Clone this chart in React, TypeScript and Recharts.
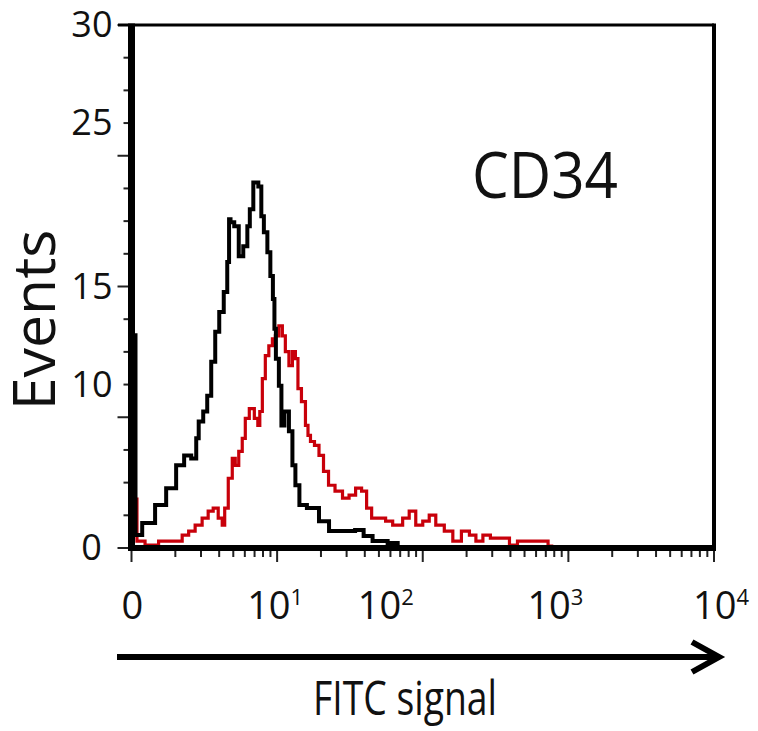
import React from "react";
import { LineChart, Line, XAxis, YAxis } from "recharts";

// FITC signal in decades (log10), events per channel
const isotypeHist: [number, number][] = [
  [0, 12.2], [0.025, 12.2], [0.03, 0.74], [0.117, 1.43], [0.207, 2.46], [0.269, 3.43],
  [0.344, 4.74], [0.379, 5.31], [0.441, 5.14], [0.448, 6.29], [0.475, 7.26], [0.51, 7.83],
  [0.53, 8.74], [0.565, 10.69], [0.585, 12.4], [0.62, 13.54], [0.647, 14.69], [0.668, 16.4],
  [0.672, 18.86], [0.688, 18.69], [0.723, 18.46], [0.75, 16.74], [0.785, 17.31], [0.806, 18.46],
  [0.819, 19.43], [0.854, 20.97], [0.888, 20.74], [0.895, 19.03], [0.923, 18.11], [0.943, 16.97],
  [0.964, 15.6], [0.978, 14.29], [0.985, 12.57], [0.998, 10.86], [1.026, 9.31], [1.033, 7.03],
  [1.067, 7.83], [1.095, 6.69], [1.115, 4.74], [1.136, 3.6], [1.17, 2.46], [1.239, 2.29],
  [1.336, 1.54], [1.377, 0.97], [1.494, 0.97], [1.577, 1.03], [1.611, 0.69], [1.7, 0.4],
  [1.818, 0.29], [1.838, 0],
];

const cd34Hist: [number, number][] = [
  [0.035, 2.8], [0.04, 0.4], [0.069, 0.4], [0.117, 0.17], [0.255, 0.4], [0.324, 0.4],
  [0.372, 0.74], [0.413, 0.97], [0.461, 1.31], [0.509, 1.71], [0.544, 2.11], [0.578, 2.29],
  [0.613, 1.71], [0.633, 1.31], [0.647, 2.29], [0.682, 4.0], [0.702, 5.14], [0.723, 4.74],
  [0.75, 5.54], [0.771, 6.29], [0.792, 7.43], [0.826, 8.0], [0.861, 7.43], [0.874, 7.03],
  [0.888, 7.83], [0.909, 9.71], [0.929, 11.03], [0.957, 11.6], [0.978, 12.0], [0.998, 12.17],
  [1.026, 12.74], [1.046, 12.17], [1.067, 11.26], [1.095, 10.46], [1.115, 11.26], [1.136, 10.86],
  [1.15, 9.14], [1.184, 8.4], [1.205, 7.03], [1.219, 6.46], [1.239, 6.11], [1.274, 5.89],
  [1.301, 5.31], [1.336, 4.4], [1.37, 3.6], [1.425, 3.26], [1.473, 2.86], [1.515, 3.03],
  [1.563, 3.43], [1.597, 3.26], [1.632, 2.29], [1.666, 1.71], [1.721, 1.71], [1.769, 1.54],
  [1.818, 1.31], [1.838, 1.31], [1.886, 1.71], [1.928, 2.11], [1.976, 1.31], [2.024, 1.54],
  [2.065, 1.89], [2.114, 1.31], [2.182, 0.97], [2.231, 0.4], [2.3, 0.97], [2.341, 0.74],
  [2.389, 0.4], [2.437, 0.74], [2.492, 0.57], [2.575, 0.57], [2.616, 0.17], [2.685, 0.4],
  [2.85, 0.4], [2.871, 0.11], [2.9, 0],
];

const xDecades = [0, 1, 2, 3, 4];
const xDecadeLabels = ["0", "10", "10", "10", "10"];
const xDecadeSups = ["", "1", "2", "3", "4"];

const yStep = 1.875;
const yTickCount = 17;
const yLabelIdx = [0, 5, 8, 13, 16];
const yLabels = ["0", "10", "15", "25", "30"];

const xMinor = [2, 3, 4, 5, 6, 7, 8, 9];
const xTicks: number[] = [];
xDecades.forEach((d) => {
  xTicks.push(d);
  if (d < 4) xMinor.forEach((m) => xTicks.push(d + Math.log10(m)));
});
const yTicks = Array.from({ length: yTickCount }, (_, i) => i * yStep);

const toRows = (h: [number, number][]) => h.map(([x, v]) => ({ x, v }));

const FONT = "'Open Sans', 'DejaVu Sans', sans-serif";
const xLabelDx = [-10, -30, -65, -41, -21];

// plot frame, px
const PL = 131.5, PR = 714, PT = 25, PB = 548;

const XTick = (props: any) => {
  const { x, y, payload } = props;
  const val = payload.value;
  const di = xDecades.findIndex((d) => Math.abs(d - val) < 1e-6);
  const major = di >= 0;
  return (
    <g>
      <line x1={x} x2={x} y1={y + 2} y2={y + (major ? 14 : 9)} stroke="#222" strokeWidth={2} />
      {major && (
        <text x={x + xLabelDx[di]} y={y + 71} fontFamily={FONT} fontSize={38} fill="#111">
          {xDecadeLabels[di]}
          {xDecadeSups[di] && (
            <tspan fontSize={22} dy={-14}>{xDecadeSups[di]}</tspan>
          )}
        </text>
      )}
    </g>
  );
};

const YTick = (props: any) => {
  const { x, y, payload } = props;
  const i = Math.round(payload.value / yStep);
  const major = i % 4 === 0;
  const li = yLabelIdx.indexOf(i);
  return (
    <g>
      <line x1={x - 3} x2={x - (major ? 14 : 8)} y1={y} y2={y} stroke="#222" strokeWidth={2} />
      {li >= 0 && (
        <text
          x={yLabels[li] === "0" ? x - 40 : x - 19}
          y={y + 12}
          textAnchor={yLabels[li] === "0" ? "middle" : "end"}
          fontFamily={FONT}
          fontSize={36}
          fill="#111"
        >
          {yLabels[li]}
        </text>
      )}
    </g>
  );
};

export default function App() {
  return (
    <div style={{ position: "absolute", left: 0, top: 0, width: 758, height: 731, background: "#fff" }}>
      <LineChart width={758} height={731} margin={{ top: PT, right: 758 - PR, bottom: 123, left: PL - 70 }}>
        <XAxis
          type="number"
          dataKey="x"
          domain={[0, 4]}
          ticks={xTicks}
          interval={0}
          allowDataOverflow
          height={60}
          tickSize={0}
          tickMargin={0}
          tickLine={false}
          axisLine={false}
          tick={<XTick />}
        />
        <YAxis
          type="number"
          dataKey="v"
          domain={[0, 30]}
          ticks={yTicks}
          interval={0}
          allowDataOverflow
          width={70}
          tickSize={0}
          tickMargin={0}
          tickLine={false}
          axisLine={false}
          tick={<YTick />}
        />
        <Line
          data={toRows(cd34Hist)}
          dataKey="v"
          type="step"
          stroke="#c8000a"
          strokeWidth={3.2}
          dot={false}
          isAnimationActive={false}
        />
        <Line
          data={toRows(isotypeHist)}
          dataKey="v"
          type="step"
          stroke="#000"
          strokeWidth={4}
          dot={false}
          isAnimationActive={false}
        />
      </LineChart>
      <svg
        width={758}
        height={731}
        style={{ position: "absolute", left: 0, top: 0, pointerEvents: "none" }}
      >
        {/* frame: heavy left/bottom axes, lighter top/right */}
        <line x1={118} y1={PT} x2={PR} y2={PT} stroke="#000" strokeWidth={3} />
        <line x1={PR} y1={PT - 1.5} x2={PR} y2={PB} stroke="#000" strokeWidth={4} />
        <line x1={PL} y1={PT - 1.5} x2={PL} y2={PB + 3} stroke="#000" strokeWidth={7} />
        <line x1={PL - 3.5} y1={PB} x2={PR + 2} y2={PB} stroke="#000" strokeWidth={6} />
        <text
          x={55}
          y={320}
          transform="rotate(-90 55 320)"
          textAnchor="middle"
          fontFamily={FONT}
          fontSize={59}
          fill="#111"
        >
          Events
        </text>
        <text
          x={472}
          y={198}
          fontFamily={FONT}
          fontSize={64}
          textLength={146}
          lengthAdjust="spacingAndGlyphs"
          fill="#111"
        >
          CD34
        </text>
        <text
          x={313}
          y={715}
          fontFamily={FONT}
          fontSize={48}
          textLength={184}
          lengthAdjust="spacingAndGlyphs"
          fill="#111"
        >
          FITC signal
        </text>
        <line x1={117} y1={657} x2={716} y2={657} stroke="#000" strokeWidth={6} />
        <polyline points="692,642 719,657 692,672" fill="none" stroke="#000" strokeWidth={6} />
      </svg>
    </div>
  );
}
